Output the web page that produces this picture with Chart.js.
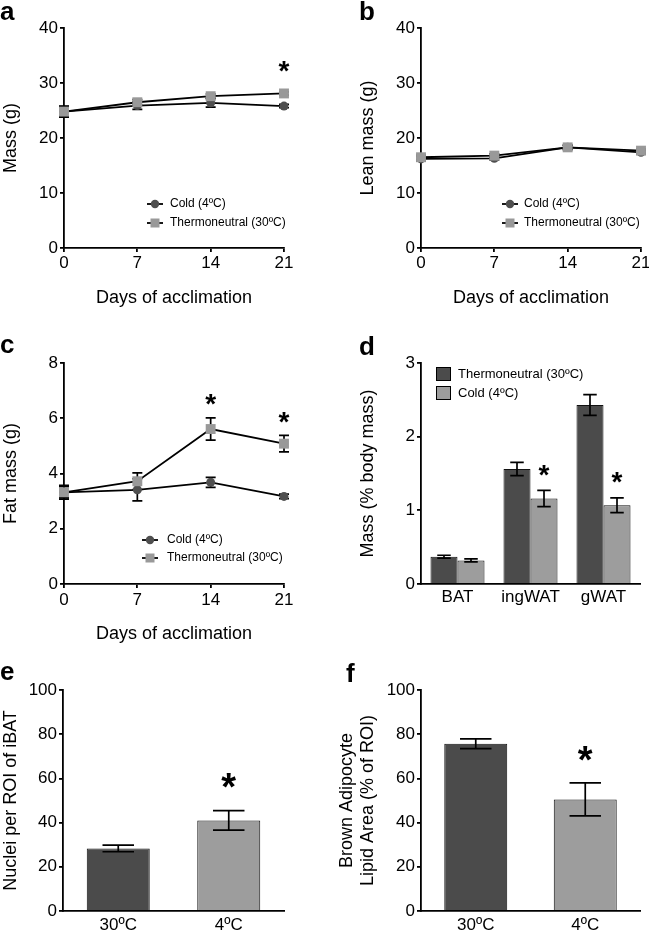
<!DOCTYPE html>
<html><head><meta charset="utf-8">
<script src="https://cdn.jsdelivr.net/npm/chart.js@4.4.0/dist/chart.umd.min.js"></script>
<style>
html,body{margin:0;padding:0;background:#fff;}
#wrap{position:relative;width:649px;height:933px;overflow:hidden;font-family:"Liberation Sans",Arial,Helvetica,sans-serif;}
canvas{position:absolute;}
.lbl{position:absolute;font-weight:bold;font-size:26px;line-height:26px;color:#000;}
</style></head><body>
<div id="wrap">
<canvas id="ca" width="325" height="310" style="left:0;top:0;width:325px;height:310px"></canvas>
<canvas id="cb" width="324" height="310" style="left:325px;top:0;width:324px;height:310px"></canvas>
<canvas id="cc" width="325" height="325" style="left:0;top:320px;width:325px;height:325px"></canvas>
<canvas id="cd" width="324" height="310" style="left:325px;top:320px;width:324px;height:310px"></canvas>
<canvas id="ce" width="325" height="283" style="left:0;top:650px;width:325px;height:283px"></canvas>
<canvas id="cf" width="324" height="283" style="left:325px;top:650px;width:324px;height:283px"></canvas>
<div class="lbl" style="left:0px;top:-2px">a</div>
<div class="lbl" style="left:359px;top:-2px">b</div>
<div class="lbl" style="left:0px;top:331px">c</div>
<div class="lbl" style="left:359px;top:333px">d</div>
<div class="lbl" style="left:0px;top:658px">e</div>
<div class="lbl" style="left:346px;top:660px">f</div>
</div>
<script>
// ---------- data ----------
const days = [0, 7, 14, 21];
const massCold = [24.8, 25.9, 26.4, 25.8];
const massColdErr = [1.0, 0.7, 0.8, 0.3];
const massThermo = [24.8, 26.5, 27.6, 28.1];
const massThermoErr = [0.9, 0.5, 0.4, 0.3];
const massSig = [false, false, false, true];

const leanCold = [16.2, 16.3, 18.3, 17.4];
const leanColdErr = [0.4, 0.3, 0.4, 0.3];
const leanThermo = [16.5, 16.8, 18.3, 17.7];
const leanThermoErr = [0.4, 0.3, 0.3, 0.3];

const fatCold = [3.32, 3.41, 3.68, 3.17];
const fatColdErr = [0.25, 0.40, 0.18, 0.08];
const fatThermo = [3.32, 3.72, 5.61, 5.08];
const fatThermoErr = [0.20, 0.30, 0.40, 0.30];
const fatSig = [false, false, true, true];

const depots = ['BAT', 'ingWAT', 'gWAT'];
const depotThermo = [0.37, 1.56, 2.43];
const depotThermoErr = [0.02, 0.09, 0.14];
const depotCold = [0.32, 1.16, 1.07];
const depotColdErr = [0.02, 0.11, 0.10];
const depotSig = [false, true, true];

const tempGroups = ['30ºC', '4ºC'];
const nuclei = [28.3, 41.0];
const nucleiErr = [1.5, 4.4];
const nucleiSig = [false, true];
const lipid = [75.7, 50.5];
const lipidErr = [2.2, 7.5];
const lipidSig = [false, true];

const coldLabel = 'Cold (4ºC)';
const thermoLabel = 'Thermoneutral (30ºC)';

// ---------- styling ----------
const FONT = "'Liberation Sans', Arial, Helvetica, sans-serif";
Chart.defaults.font.family = FONT;
Chart.defaults.color = '#000';
Chart.defaults.animation = false;
const DARK = '#4b4b4b', LIGHT = '#9d9d9d', MDARK = '#4f4f4f', MLIGHT = '#999999';

const extras = {
  ca: {capHalf: 5, star: {offset: 27, size: 28}, legend: {kind: 'line', markerX: 155, textX: 170, rows: [204, 223], size: 12}},
  cb: {capHalf: 5, star: {offset: 25, size: 28}, legend: {kind: 'line', markerX: 185, textX: 199, rows: [204, 223], size: 12}},
  cc: {capHalf: 5, star: {offset: 20, size: 28}, legend: {kind: 'line', markerX: 150, textX: 167, rows: [220, 238], size: 12}},
  cd: {star: {offset: 22, size: 28}, legend: {kind: 'box', markerX: 118.5, textX: 133, rows: [54, 73], size: 13}},
  ce: {star: {offset: 32, size: 38}},
  cf: {star: {offset: 31, size: 38}}
};

function val(v) { return (v !== null && typeof v === 'object') ? v.y : v; }

function drawErrors(chart) {
  const ctx = chart.ctx, ys = chart.scales.y, ex = extras[chart.canvas.id] || {};
  ctx.save();
  ctx.strokeStyle = '#000'; ctx.lineWidth = 1.7;
  chart.data.datasets.forEach((ds, di) => {
    if (!ds.errors) return;
    const meta = chart.getDatasetMeta(di);
    meta.data.forEach((el, i) => {
      const v = val(ds.data[i]), e = ds.errors[i];
      const t = ys.getPixelForValue(v + e), b = ys.getPixelForValue(v - e);
      const h = ex.capHalf || (el.width / 4);
      ctx.beginPath();
      ctx.moveTo(el.x, t); ctx.lineTo(el.x, b);
      ctx.moveTo(el.x - h, t); ctx.lineTo(el.x + h, t);
      ctx.moveTo(el.x - h, b); ctx.lineTo(el.x + h, b);
      ctx.stroke();
    });
  });
  ctx.restore();
}

function drawStars(chart) {
  const ctx = chart.ctx, ys = chart.scales.y, ex = extras[chart.canvas.id] || {};
  if (!ex.star) return;
  ctx.save();
  ctx.fillStyle = '#000';
  ctx.font = 'bold ' + ex.star.size + 'px ' + FONT;
  ctx.textAlign = 'center'; ctx.textBaseline = 'alphabetic';
  chart.data.datasets.forEach((ds, di) => {
    if (!ds.sig) return;
    const meta = chart.getDatasetMeta(di);
    meta.data.forEach((el, i) => {
      if (!ds.sig[i]) return;
      const v = val(ds.data[i]), e = ds.errors ? ds.errors[i] : 0;
      const cy = ys.getPixelForValue(v + e) - ex.star.offset;
      ctx.fillText('*', el.x, cy + 0.55 * ex.star.size);
    });
  });
  ctx.restore();
}

function drawLegend(chart) {
  const ex = extras[chart.canvas.id] || {};
  const lg = ex.legend; if (!lg) return;
  const ctx = chart.ctx;
  ctx.save();
  ctx.font = lg.size + 'px ' + FONT;
  ctx.textBaseline = 'middle'; ctx.textAlign = 'left';
  chart.data.datasets.forEach((ds, i) => {
    const y = lg.rows[i], x = lg.markerX;
    if (lg.kind === 'line') {
      ctx.strokeStyle = '#000'; ctx.lineWidth = 1.8;
      ctx.beginPath(); ctx.moveTo(x - 8, y); ctx.lineTo(x + 8, y); ctx.stroke();
      ctx.fillStyle = ds.pointBackgroundColor;
      if (ds.pointStyle === 'circle') { ctx.beginPath(); ctx.arc(x, y, 4.2, 0, Math.PI * 2); ctx.fill(); }
      else { ctx.fillRect(x - 4.5, y - 4.5, 9, 9); }
    } else {
      ctx.fillStyle = ds.backgroundColor; ctx.strokeStyle = '#000'; ctx.lineWidth = 1;
      ctx.fillRect(x - 7, y - 6.5, 14, 13); ctx.strokeRect(x - 7, y - 6.5, 14, 13);
    }
    ctx.fillStyle = '#000';
    ctx.fillText(ds.label, lg.textX, y);
  });
  ctx.restore();
}

const annotPlugin = {
  id: 'annot',
  beforeDatasetsDraw(chart) { if (chart.config.type === 'line') drawErrors(chart); },
  afterDatasetsDraw(chart) {
    if (chart.config.type === 'bar') drawErrors(chart);
    drawStars(chart); drawLegend(chart);
  }
};
Chart.register(annotPlugin);

function fix(kind, size) {
  return function (scale) {
    if (kind === 'w') scale.width = size; else scale.height = size;
    scale.paddingLeft = 0; scale.paddingRight = 0; scale.paddingTop = 0; scale.paddingBottom = 0;
  };
}
const tickGrid = {display: true, drawOnChartArea: false, drawTicks: true, tickLength: 4, color: '#000', lineWidth: 1.8};
const axisBorder = {display: true, color: '#000', width: 1.8};

function yAxis(min, max, step, title, titlePad, width) {
  return {
    min: min, max: max,
    ticks: {stepSize: step, font: {size: 17}, padding: 2, color: '#000'},
    grid: tickGrid, border: axisBorder,
    title: {display: true, text: title, font: {size: 18}, padding: {top: titlePad, bottom: 0}, color: '#000'},
    afterFit: fix('w', width)
  };
}
function xDays(height, tickPad, titlePad) {
  return {
    type: 'linear', min: 0, max: 21,
    ticks: {stepSize: 7, font: {size: 17}, padding: tickPad, maxRotation: 0, autoSkip: false, color: '#000'},
    grid: tickGrid, border: axisBorder,
    title: {display: true, text: 'Days of acclimation', font: {size: 18}, padding: {top: 0, bottom: titlePad}, color: '#000'},
    afterFit: fix('h', height)
  };
}
function xCat(height, tickPad) {
  return {
    type: 'category',
    ticks: {font: {size: 17}, padding: tickPad, maxRotation: 0, autoSkip: false, color: '#000'},
    grid: {display: false, drawTicks: false, tickLength: 0},
    border: axisBorder,
    afterFit: fix('h', height)
  };
}
function lineDs(label, ys, errs, sig, style, color, order) {
  return {
    label: label, data: days.map((d, i) => ({x: d, y: ys[i]})), errors: errs, sig: sig,
    borderColor: '#000', borderWidth: 1.8, pointStyle: style, pointRadius: style === 'circle' ? 4.5 : 7,
    pointHoverRadius: style === 'circle' ? 4.5 : 7,
    pointBackgroundColor: color, pointBorderColor: color, pointBorderWidth: 0,
    fill: false, tension: 0, clip: false, order: order
  };
}
function barDs(label, vals, errs, sig, color) {
  return {label: label, data: vals, errors: errs, sig: sig, backgroundColor: color, borderColor: '#111', borderWidth: 1};
}
function opts(padTop, padRight, xs, ysc) {
  return {
    responsive: false, animation: false,
    layout: {padding: {top: padTop, right: padRight, left: 0, bottom: 0}},
    plugins: {legend: {display: false}, tooltip: {enabled: false}},
    scales: {x: xs, y: ysc}
  };
}

new Chart(document.getElementById('ca'), {
  type: 'line',
  data: {datasets: [
    lineDs(coldLabel, massCold, massColdErr, null, 'circle', MDARK, 1),
    lineDs(thermoLabel, massThermo, massThermoErr, massSig, 'rect', MLIGHT, 0)
  ]},
  options: opts(28, 41, xDays(62, 1, 1.5), yAxis(0, 40, 10, 'Mass (g)', 0, 64))
});
new Chart(document.getElementById('cb'), {
  type: 'line',
  data: {datasets: [
    lineDs(coldLabel, leanCold, leanColdErr, null, 'circle', MDARK, 1),
    lineDs(thermoLabel, leanThermo, leanThermoErr, null, 'rect', MLIGHT, 0)
  ]},
  options: opts(28, 8, xDays(62, 1, 1.5), yAxis(0, 40, 10, 'Lean mass (g)', 32, 96))
});
new Chart(document.getElementById('cc'), {
  type: 'line',
  data: {datasets: [
    lineDs(coldLabel, fatCold, fatColdErr, null, 'circle', MDARK, 1),
    lineDs(thermoLabel, fatThermo, fatThermoErr, fatSig, 'rect', MLIGHT, 0)
  ]},
  options: opts(43, 41, xDays(61, 2, 0), yAxis(0, 8, 2, 'Fat mass (g)', 0, 64))
});
const dOpts = opts(43, 9, xCat(46, 3), yAxis(0, 3, 1, 'Mass (% body mass)', 32, 96));
new Chart(document.getElementById('cd'), {
  type: 'bar',
  data: {labels: depots, datasets: [
    Object.assign(barDs(thermoLabel, depotThermo, depotThermoErr, null, DARK), {categoryPercentage: 0.74, barPercentage: 1}),
    Object.assign(barDs(coldLabel, depotCold, depotColdErr, depotSig, LIGHT), {categoryPercentage: 0.74, barPercentage: 1})
  ]},
  options: dOpts
});
new Chart(document.getElementById('ce'), {
  type: 'bar',
  data: {labels: tempGroups, datasets: [
    Object.assign(barDs('Nuclei', nuclei, nucleiErr, nucleiSig, [DARK, LIGHT]), {categoryPercentage: 1, barPercentage: 0.57})
  ]},
  options: opts(40, 41, xCat(22, 4), yAxis(0, 100, 20, 'Nuclei per ROI of iBAT', 0, 63))
});
new Chart(document.getElementById('cf'), {
  type: 'bar',
  data: {labels: tempGroups, datasets: [
    Object.assign(barDs('Lipid', lipid, lipidErr, lipidSig, [DARK, LIGHT]), {categoryPercentage: 1, barPercentage: 0.575})
  ]},
  options: opts(40, 9, xCat(22, 4), yAxis(0, 100, 20, ['Brown Adipocyte', 'Lipid Area (% of ROI)'], 11, 96))
});
</script>
</body></html>
